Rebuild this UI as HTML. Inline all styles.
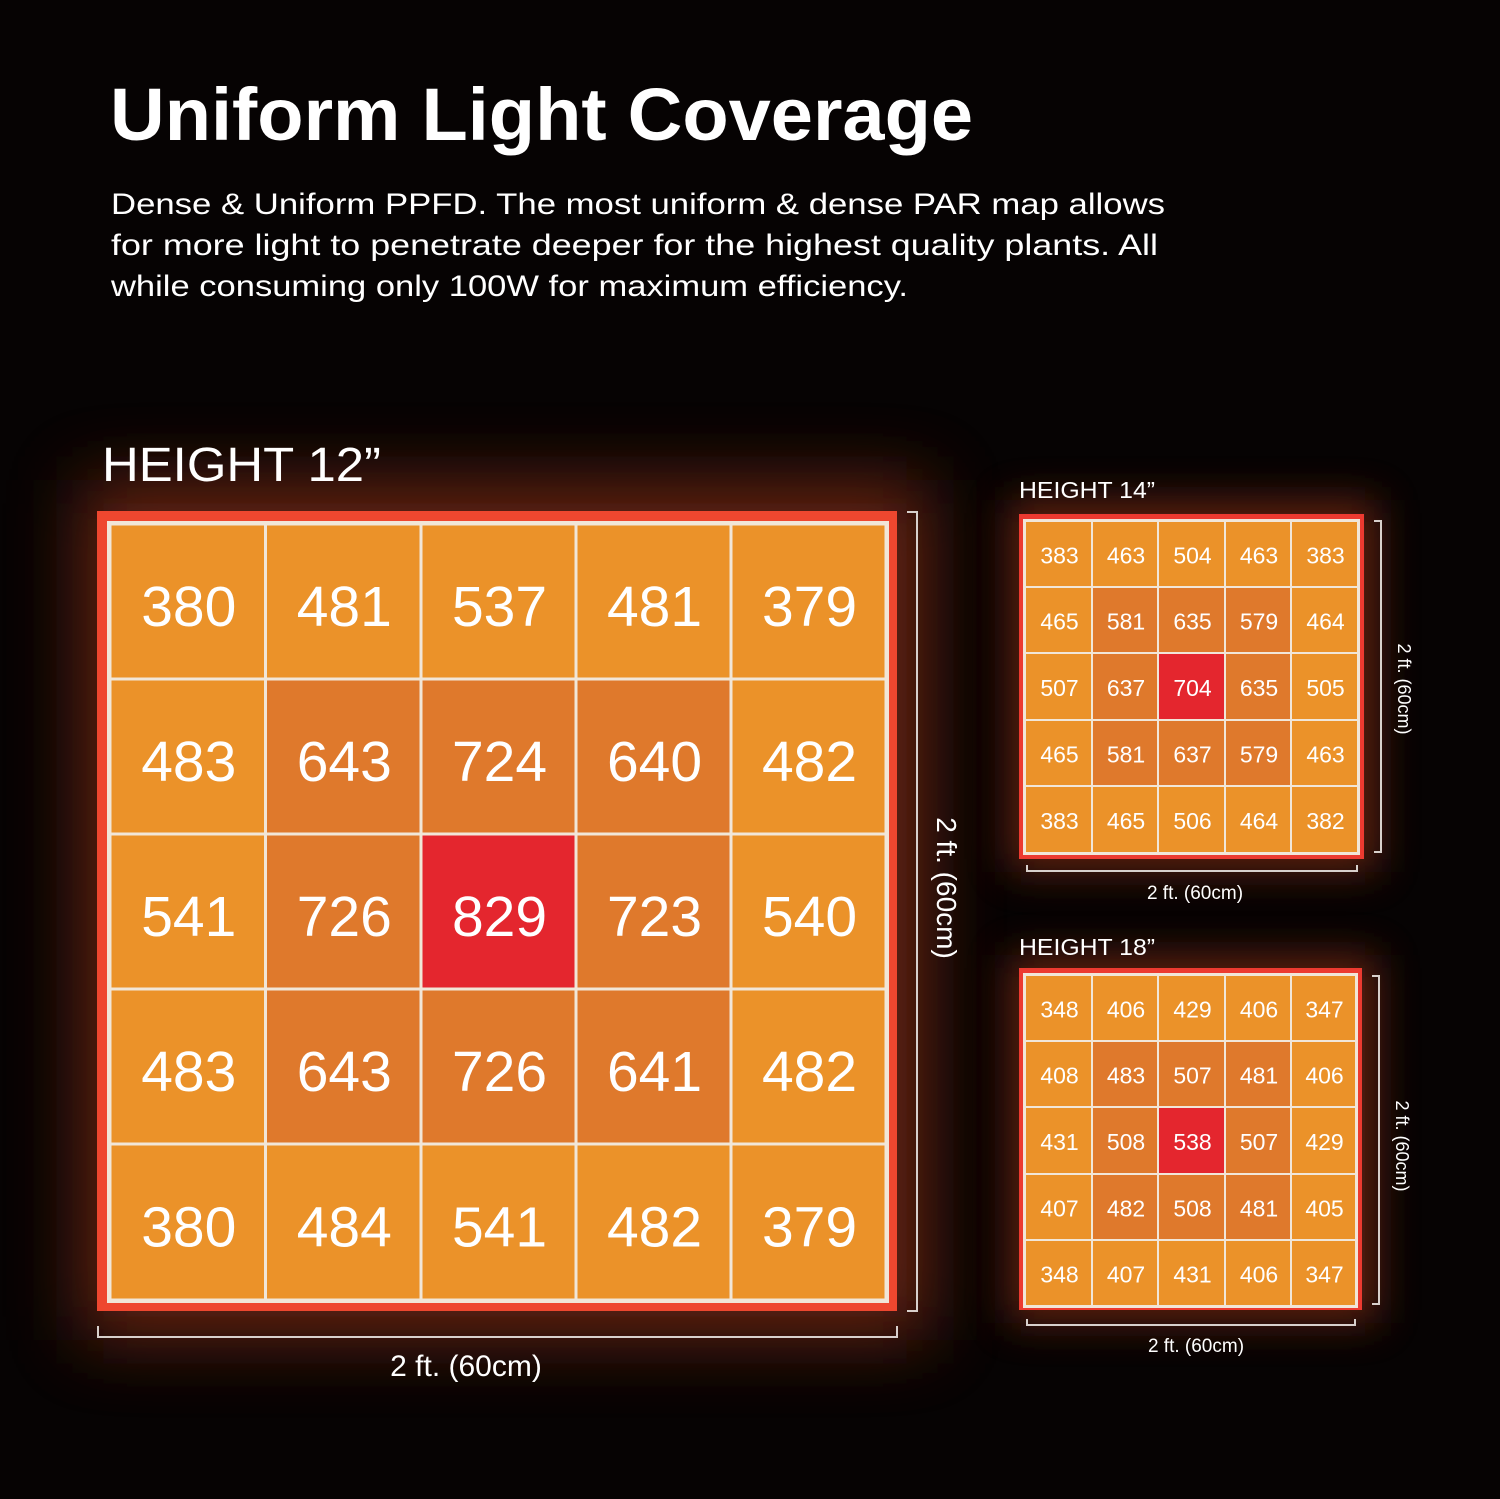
<!DOCTYPE html>
<html><head><meta charset="utf-8"><style>
html,body{margin:0;padding:0;background:#000;}
svg{display:block;}
text{font-family:"Liberation Sans",sans-serif;fill:#fff;}
</style></head><body>
<svg width="1500" height="1499" viewBox="0 0 1500 1499" xmlns="http://www.w3.org/2000/svg">
<defs>
<filter id="g1" x="-50%" y="-50%" width="200%" height="200%"><feGaussianBlur stdDeviation="35"/></filter>
<filter id="g2" x="-50%" y="-50%" width="200%" height="200%"><feGaussianBlur stdDeviation="20"/></filter>
</defs>
<rect width="1500" height="1499" fill="#060303"/>
<rect x="80" y="480" width="850" height="860" fill="#7a2a14" opacity="0.8" filter="url(#g1)"/>
<rect x="1008" y="500" width="370" height="372" fill="#7a2a14" opacity="0.75" filter="url(#g2)"/>
<rect x="1008" y="955" width="370" height="368" fill="#7a2a14" opacity="0.75" filter="url(#g2)"/>

<text x="110" y="140" font-size="74" font-weight="bold" textLength="863" lengthAdjust="spacingAndGlyphs">Uniform Light Coverage</text>
<text x="111" y="214" font-size="30" textLength="1054" lengthAdjust="spacingAndGlyphs">Dense &amp; Uniform PPFD. The most uniform &amp; dense PAR map allows</text>
<text x="111" y="255" font-size="30" textLength="1047" lengthAdjust="spacingAndGlyphs">for more light to penetrate deeper for the highest quality plants.  All</text>
<text x="111" y="296" font-size="30" textLength="797" lengthAdjust="spacingAndGlyphs">while consuming only 100W for maximum efficiency.</text>

<text x="102" y="481" font-size="48" textLength="279" lengthAdjust="spacingAndGlyphs">HEIGHT 12”</text>
<text x="1019" y="498" font-size="23" textLength="136" lengthAdjust="spacingAndGlyphs">HEIGHT 14”</text>
<text x="1019" y="955" font-size="23" textLength="136" lengthAdjust="spacingAndGlyphs">HEIGHT 18”</text>

<rect x="97" y="511" width="800" height="800" fill="#ee472f"/>
<rect x="107" y="521" width="782" height="782" fill="#f1e6d8"/>
<g id="main"></g>
<rect x="1019" y="514" width="345" height="345" fill="#ec3a30"/>
<rect x="1023" y="519" width="337" height="336" fill="#f1e6d8"/>
<rect x="1019" y="968" width="343" height="342" fill="#ec3a30"/>
<rect x="1023" y="973" width="335" height="335" fill="#f1e6d8"/>
<g id="s14"></g><g id="s18"></g>

<g stroke="#d8d0cc" stroke-width="2" fill="none">
<path d="M907 512 H917 V1311 H907"/>
<path d="M98 1326 V1337 H897 V1326"/>
<path d="M1374 521 H1381 V852 H1374"/>
<path d="M1027 865 V871 H1357 V865"/>
<path d="M1372 976 H1379 V1304 H1372"/>
<path d="M1027 1319 V1325 H1355 V1319"/>
</g>
<text x="466" y="1376" font-size="30" text-anchor="middle">2 ft. (60cm)</text>
<text x="1195" y="899" font-size="19" text-anchor="middle">2 ft. (60cm)</text>
<text x="1196" y="1352" font-size="19" text-anchor="middle">2 ft. (60cm)</text>
<text transform="translate(937,888) rotate(90)" font-size="28" text-anchor="middle">2 ft. (60cm)</text>
<text transform="translate(1398,689) rotate(90)" font-size="18" text-anchor="middle">2 ft. (60cm)</text>
<text transform="translate(1396,1146) rotate(90)" font-size="18" text-anchor="middle">2 ft. (60cm)</text>
</svg>
<script>
function grid(id,xs,ys,vals,fs,gap,dy){
  var g=document.getElementById(id),s="";
  for(var r=0;r<5;r++)for(var c=0;c<5;c++){
    var d=Math.max(Math.abs(r-2),Math.abs(c-2));
    var col=d==0?"#e4262e":(d==1?"#df792c":"#eb9229");
    var x=xs[c]+gap/2,y=ys[r]+gap/2,w=xs[c+1]-xs[c]-gap,h=ys[r+1]-ys[r]-gap;
    s+='<rect x="'+x+'" y="'+y+'" width="'+w+'" height="'+h+'" fill="'+col+'"/>';
    s+='<text x="'+((xs[c]+xs[c+1])/2+1)+'" y="'+((ys[r]+ys[r+1])/2+fs*0.36+dy)+'" font-size="'+fs+'" text-anchor="middle" fill="#fbf3e6">'+vals[r][c]+'</text>';
  }
  g.innerHTML=s;
}
grid("main",[110,265.5,421,576,731,886],[524,679,834,989,1144,1300],
[[380,481,537,481,379],[483,643,724,640,482],[541,726,829,723,540],[483,643,726,641,482],[380,484,541,482,379]],57,3,4);
grid("s14",[1025,1092,1158,1225,1291,1358],[521,587,653,720,786,853],
[[383,463,504,463,383],[465,581,635,579,464],[507,637,704,635,505],[465,581,637,579,463],[383,465,506,464,382]],23,2,1);
grid("s18",[1025,1092,1158,1225,1291,1356],[975,1041,1107,1174,1240,1306],
[[348,406,429,406,347],[408,483,507,481,406],[431,508,538,507,429],[407,482,508,481,405],[348,407,431,406,347]],23,2,1);
</script>
</body></html>
